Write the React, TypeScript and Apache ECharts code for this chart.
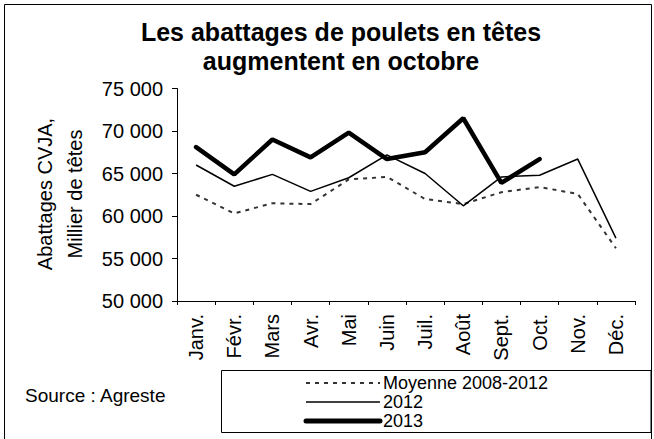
import React, { useEffect, useRef } from "react";
import * as echarts from "echarts";

const months = ["Janv.", "Févr.", "Mars", "Avr.", "Mai", "Juin", "Juil.", "Août", "Sept.", "Oct.", "Nov.", "Déc."];
const moyenne = [62500, 60300, 61500, 61400, 64300, 64600, 62000, 61400, 62800, 63400, 62600, 56200];
const y2012 = [66000, 63500, 64900, 62900, 64500, 67200, 65000, 61200, 64600, 64800, 66700, 57400];
const y2013 = [68100, 64900, 69000, 66900, 69800, 66700, 67500, 71500, 63900, 66700, null, null];
const seriesNames = ["Moyenne 2008-2012", "2012", "2013"];

const FONT = "'Liberation Sans', Arial, sans-serif";

const lineStyles = [
  { stroke: "#333", lineWidth: 2, lineDash: [4, 5], lineCap: "butt" },
  { stroke: "#000", lineWidth: 1.5, lineCap: "butt" },
  { stroke: "#000", lineWidth: 5, lineCap: "round" },
];

function fmt(v: number) {
  return String(v).replace(/\B(?=(\d{3})+(?!\d))/g, " ");
}

export default function App() {
  const ref = useRef<HTMLDivElement>(null);
  useEffect(() => {
    if (!ref.current) return;
    const chart = echarts.init(ref.current, null, { renderer: "svg" });
    const legendRowsY = [383, 402, 421];
    const legendGraphics: any[] = [];
    seriesNames.forEach((name, i) => {
      legendGraphics.push({
        type: "line",
        shape: { x1: 306, y1: legendRowsY[i], x2: 380, y2: legendRowsY[i] },
        style: { ...lineStyles[i], fill: "none" },
        silent: true,
      });
      legendGraphics.push({
        type: "text",
        x: 383,
        y: legendRowsY[i],
        style: { text: name, fontSize: 18, fontFamily: FONT, fill: "#000", align: "left", verticalAlign: "middle" },
      });
    });
    chart.setOption({
      animation: false,
      backgroundColor: "#fff",
      textStyle: { fontFamily: FONT, color: "#000" },
      title: {
        text: "Les abattages de poulets en têtes\naugmentent en octobre",
        left: 341,
        textAlign: "center",
        top: 17,
        padding: 0,
        textStyle: { fontFamily: FONT, fontSize: 25, fontWeight: "bold", color: "#000", lineHeight: 29 },
      },
      grid: { left: 177, right: 19, top: 88.5, bottom: 138, containLabel: false },
      xAxis: {
        type: "category",
        data: months,
        boundaryGap: true,
        axisLine: { lineStyle: { color: "#000", width: 1 } },
        axisTick: { show: true, length: 4, lineStyle: { color: "#000" } },
        axisLabel: { rotate: 90, fontSize: 20, color: "#000", fontFamily: FONT, margin: 13 },
        splitLine: { show: false },
      },
      yAxis: {
        type: "value",
        min: 50000,
        max: 75000,
        interval: 5000,
        axisLine: { show: true, lineStyle: { color: "#000", width: 1 } },
        axisTick: { show: true, length: 5, lineStyle: { color: "#000" } },
        axisLabel: { fontSize: 20, color: "#000", fontFamily: FONT, margin: 14, formatter: (v: number) => fmt(v) },
        splitLine: { show: false },
      },
      graphic: [
        {
          type: "rect",
          shape: { x: 4.5, y: 4.5, width: 647, height: 445 },
          style: { fill: "none", stroke: "#000", lineWidth: 1 },
          silent: true,
          z: -1,
        },
        {
          type: "rect",
          shape: { x: 221.5, y: 370.5, width: 429.5, height: 62 },
          style: { fill: "none", stroke: "#000", lineWidth: 1 },
          silent: true,
        },
        ...legendGraphics,
        {
          type: "text",
          x: 45,
          y: 194,
          rotation: Math.PI / 2,
          style: { text: "Abattages CVJA,", fontSize: 20, fontFamily: FONT, fill: "#000", align: "center", verticalAlign: "middle" },
        },
        {
          type: "text",
          x: 75,
          y: 194,
          rotation: Math.PI / 2,
          style: { text: "Millier de têtes", fontSize: 20, fontFamily: FONT, fill: "#000", align: "center", verticalAlign: "middle" },
        },
        {
          type: "text",
          x: 25,
          y: 395,
          style: { text: "Source : Agreste", fontSize: 19, fontFamily: FONT, fill: "#000", align: "left", verticalAlign: "middle" },
        },
      ],
      series: [
        {
          name: seriesNames[0],
          type: "line",
          data: moyenne,
          symbol: "none",
          lineStyle: { color: "#333", width: 2, type: [4, 5] },
          itemStyle: { color: "#333" },
          z: 1,
        },
        {
          name: seriesNames[1],
          type: "line",
          data: y2012,
          symbol: "none",
          lineStyle: { color: "#000", width: 1.5 },
          itemStyle: { color: "#000" },
          z: 2,
        },
        {
          name: seriesNames[2],
          type: "line",
          data: y2013,
          symbol: "none",
          connectNulls: false,
          lineStyle: { color: "#000", width: 4.5, cap: "round" },
          itemStyle: { color: "#000" },
          z: 3,
        },
      ],
    });
    return () => chart.dispose();
  }, []);
  return <div ref={ref} style={{ position: "fixed", left: 0, top: 0, width: 654, height: 439 }} />;
}
